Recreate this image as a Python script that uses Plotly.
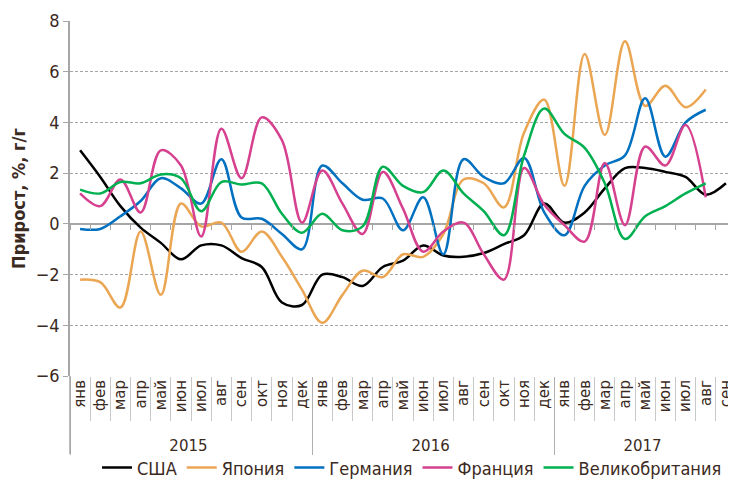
import plotly.graph_objects as go

months = ["янв","фев","мар","апр","май","июн","июл","авг","сен","окт","ноя","дек"]
years = ["2015", "2016", "2017"]
n_months = [12, 12, 9]

usa = [2.9, 1.85, 0.7, -0.15, -0.75, -1.4, -0.85, -0.85, -1.35, -1.7, -3.1, -3.2,
       -2.0, -2.1, -2.45, -1.7, -1.45, -0.85, -1.25, -1.3, -1.15, -0.8, -0.45, 0.8,
       0.05, 0.45, 1.4, 2.2, 2.2, 2.05, 1.85, 1.15, 1.6]
japan = [-2.2, -2.3, -3.3, -0.3, -2.8, 0.8, -0.1, 0.05, -1.1, -0.3, -1.3, -2.6,
         -3.9, -2.8, -1.85, -2.1, -1.2, -1.3, -0.4, 1.75, 1.6, 0.65, 3.6, 4.9,
         1.5, 6.7, 3.5, 7.2, 4.65, 5.45, 4.6, 5.3]
germany = [-0.2, -0.2, 0.3, 0.9, 1.8, 1.4, 0.8, 2.55, 0.25, 0.2, -0.4, -1.0,
           2.3, 1.6, 0.95, 1.0, -0.25, 1.05, -1.2, 2.55, 1.85, 1.6, 2.6, 0.45,
           -0.45, 1.5, 2.3, 2.7, 4.95, 2.65, 4.0, 4.5]
france = [1.2, 0.7, 1.75, 0.45, 2.9, 2.3, -0.5, 3.75, 1.8, 4.2, 3.3, 0.05,
          2.1, 0.8, -0.4, 2.05, 0.6, -1.1, -0.3, 0.05, -1.2, -2.2, 2.2, 0.75,
          -0.05, -0.7, 2.4, -0.05, 3.05, 2.3, 3.9, 1.05]
uk = [1.35, 1.2, 1.65, 1.6, 1.95, 1.8, 0.5, 1.65, 1.55, 1.6, 0.4, -0.35,
      0.4, -0.25, -0.1, 2.25, 1.5, 1.25, 2.1, 1.2, 0.5, -0.45, 2.7, 4.55,
      3.55, 3.0, 1.6, -0.6, 0.3, 0.7, 1.2, 1.6]

names = ["США", "Япония", "Германия", "Франция", "Великобритания"]
colors = ["#000000", "#EBA653", "#0070C0", "#D6418F", "#00B050"]

pad = "\u00a0\u00a0"  # keeps rotated month labels a little below the axis
x_year = []
x_month = []
for y, n in zip(years, n_months):
    for m in months[:n]:
        x_year.append(y)
        x_month.append(pad + m)
n_total = len(x_month)

fig = go.Figure()
for name, vals, col in zip(names, [usa, japan, germany, france, uk], colors):
    k = len(vals)
    fig.add_trace(go.Scatter(
        x=[x_year[:k], x_month[:k]], y=vals, name=name, mode="lines",
        line=dict(color=col, width=2.5, shape="spline", smoothing=1.0),
    ))

txt = "#3b2a22"
grey = "#a6a6a6"
cond = "DejaVu Sans Condensed, Liberation Sans Narrow, Liberation Sans"
# the page body has an 8px default margin, so the figure is 8px smaller
fig.update_layout(
    width=728, height=479,
    margin=dict(l=62, r=0, t=13, b=111, autoexpand=False),
    paper_bgcolor="white", plot_bgcolor="white",
    font=dict(family=cond, color=txt, size=15),
    legend=dict(orientation="h", x=0.555, xanchor="center", xref="container",
                y=0.04, yanchor="middle", yref="container", bgcolor="rgba(0,0,0,0)",
                font=dict(size=18, color=txt, family=cond), itemwidth=30),
    showlegend=True,
    xaxis2=dict(overlaying="x", anchor="free", position=6 / 14, side="bottom",
                range=[-0.5, n_total - 0.5], tick0=-0.5, dtick=1,
                ticks="outside", ticklen=5, tickcolor=grey, showticklabels=False,
                showgrid=False, zeroline=False, showline=False),
)
fig.add_shape(type="line", xref="paper", yref="paper", x0=0, x1=0, y0=0, y1=-0.22,
              line=dict(color=grey, width=1.5))
fig.add_trace(go.Scatter(x=[0], y=[None], xaxis="x2", showlegend=False,
                         hoverinfo="skip", mode="lines"))
fig.update_yaxes(
    range=[-6, 8], dtick=2, showgrid=True, gridcolor=grey, griddash="3px,2px",
    gridwidth=1, zeroline=True, zerolinecolor=grey, zerolinewidth=1.5,
    showline=True, linecolor=grey, linewidth=1.5,
    ticks="outside", ticklen=5, tickcolor=grey,
    tickfont=dict(size=18, color=txt, family=cond),
    title=dict(text="<b>Прирост, %, г/г</b>", font=dict(size=18, color=txt,
               family="DejaVu Sans Condensed, Liberation Sans"), standoff=11),
)
fig.layout.xaxis.update(
    type="multicategory", tickangle=-90, showgrid=False, range=[-0.5, n_total - 0.5],
    showline=False,
    showdividers=True, dividercolor="#b0b0b0", dividerwidth=1,
    ticks="outside", tickcolor="#c8c8c8", ticklen=44,
    tickfont=dict(size=15, color=txt, family="DejaVu Sans, Verdana"),
)
fig.write_html("out.html")
